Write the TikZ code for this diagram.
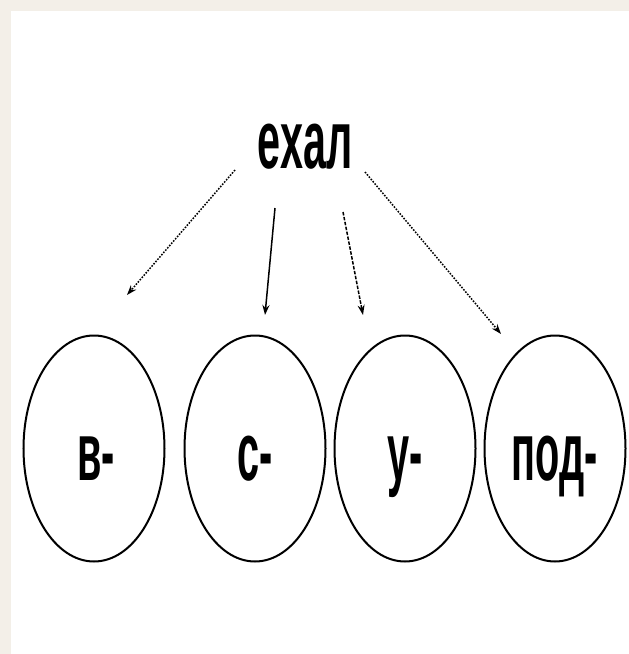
\documentclass[tikz,border=0pt]{standalone}
\usepackage{graphicx}
\usepackage{fontspec}
\setmainfont{Liberation Sans}
\usetikzlibrary{shapes.geometric,arrows.meta}
\definecolor{paper}{HTML}{F3EFE8}
\tikzset{
  oval/.style={ellipse, draw=black, line width=2bp, minimum width=141bp, minimum height=226bp, inner sep=0pt},
  lbl/.style={font=\fontsize{83}{90}\selectfont\bfseries, inner sep=0pt, anchor=base},
  arr/.style={-{Stealth[length=10bp,width=7bp]}, line width=1.5bp},
  dotline/.style={dash pattern=on 1.6bp off 1.4bp},
  dashline/.style={dash pattern=on 3.5bp off 1.5bp}
}
\begin{document}
\begin{tikzpicture}[x=1bp,y=-1bp]
\useasboundingbox (0,0) rectangle (629,654);
\fill[paper] (0,0) rectangle (629,654);
\fill[white] (11,11) rectangle (629,654);
% ellipses
\node[oval] (v) at (94,448.5) {};
\node[oval] (s) at (255,448.5) {};
\node[oval] (u) at (405,448.5) {};
\node[oval] (p) at (555,448.5) {};
% labels
\node[lbl] (top) at (305,168) {\scalebox{0.5}[1]{ехал}};
\node[lbl] (tv) at (96,480) {\scalebox{0.48}[1]{в-}};
\node[lbl] (ts) at (255,480) {\scalebox{0.48}[1]{с-}};
\node[lbl] (tu) at (405,480) {\scalebox{0.48}[1]{у-}};
\node[lbl] (tp) at (555,480) {\scalebox{0.48}[1]{под-}};
% arrow ends
\coordinate (a1) at (235,170); \coordinate (b1) at (127,295);
\coordinate (a2) at (275,208); \coordinate (b2) at (265,315);
\coordinate (a3) at (343,212); \coordinate (b3) at (363,315);
\coordinate (a4) at (365,172); \coordinate (b4) at (501,334);
\draw[arr, dotline] (a1) -- (b1);
\draw[arr] (a2) -- (b2);
\draw[arr, dashline] (a3) -- (b3);
\draw[arr, dotline] (a4) -- (b4);
\end{tikzpicture}
\end{document}
